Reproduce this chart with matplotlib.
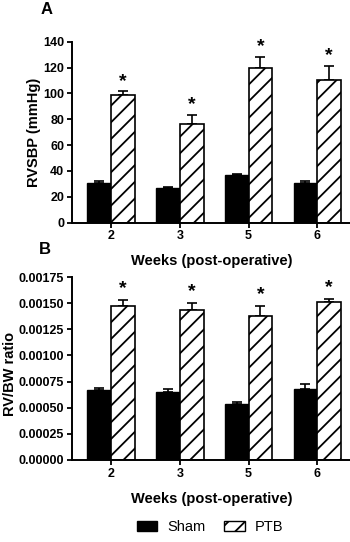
import matplotlib
matplotlib.use("Agg")
import matplotlib.pyplot as plt
import numpy as np
from matplotlib.patches import Patch

plt.rcParams['font.family'] = ['Liberation Sans', 'DejaVu Sans']
plt.rcParams['hatch.linewidth'] = 1.3

weeks = ["2", "3", "5", "6"]
groups = ["Sham", "PTB"]

rvsbp_sham = [31, 26.5, 37, 31]
rvsbp_sham_err = [1, 1, 1, 1]
rvsbp_ptb = [98.5, 76, 119.5, 110]
rvsbp_ptb_err = [3, 7, 8.5, 11]

ratio_sham = [0.000665, 0.000650, 0.000535, 0.000675]
ratio_sham_err = [0.000028, 0.000027, 0.000017, 0.000050]
ratio_ptb = [0.001475, 0.001435, 0.001380, 0.001510]
ratio_ptb_err = [0.000055, 0.000068, 0.000095, 0.000025]

fig = plt.figure(figsize=(3.5, 5.42), dpi=100)
W, H = 350, 542

def make_ax(left_px, top_px, bottom_px, right_px=350):
    return fig.add_axes([left_px / W, 1 - bottom_px / H, (right_px - left_px) / W,
                         (bottom_px - top_px) / H])

axA = make_ax(72, 41.7, 222.7, 351)
axB = make_ax(72, 277, 460, 351)

bw = 0.345
x = np.arange(len(weeks))

def draw(ax, sham, sham_err, ptb, ptb_err, ymax, yticks, fmt, star_off):
    ax.bar(x - bw / 2, sham, bw, color='black', edgecolor='black', linewidth=1.0, zorder=2)
    ax.bar(x + bw / 2, ptb, bw, color='white', edgecolor='black', hatch='//', linewidth=1.2, zorder=2)
    ax.errorbar(x - bw / 2, sham, yerr=[np.zeros(4), sham_err], fmt='none', ecolor='black',
                elinewidth=1.2, capsize=3.5, capthick=1.2, zorder=1)
    ax.errorbar(x + bw / 2, ptb, yerr=[np.zeros(4), ptb_err], fmt='none', ecolor='black',
                elinewidth=1.2, capsize=3.5, capthick=1.2, zorder=1)
    for xi, v, e in zip(x, ptb, ptb_err):
        ax.text(xi + bw / 2, v + e + star_off, '*', ha='center', va='center',
                fontsize=14, fontweight='bold')
    ax.set_ylim(0, ymax)
    ax.set_xlim(-0.57, 3.49)
    ax.set_yticks(yticks)
    ax.set_yticklabels([fmt.format(t) for t in yticks], fontweight='bold', fontsize=9)
    ax.set_xticks(x)
    ax.set_xticklabels(weeks, fontweight='bold', fontsize=9)
    for s in ['top', 'right']:
        ax.spines[s].set_visible(False)
    for s in ['left', 'bottom']:
        ax.spines[s].set_linewidth(1.4)
    ax.tick_params(width=1.3, length=3.5, pad=2)
    ax.set_xlabel("Weeks (post-operative)", fontweight='bold', fontsize=10.5)
    ax.xaxis.set_label_coords(0.50, -0.175)

draw(axA, rvsbp_sham, rvsbp_sham_err, rvsbp_ptb, rvsbp_ptb_err, 140,
     [0, 20, 40, 60, 80, 100, 120, 140], "{:.0f}", 8)
axA.set_ylabel("RVSBP (mmHg)", fontweight='bold', fontsize=10.5)
axA.yaxis.set_label_coords(-0.112, 0.5)

draw(axB, ratio_sham, ratio_sham_err, ratio_ptb, ratio_ptb_err, 0.00175,
     [0, 0.00025, 0.0005, 0.00075, 0.001, 0.00125, 0.0015, 0.00175], "{:.5f}", 0.00011)
axB.set_ylabel("RV/BW ratio", fontweight='bold', fontsize=10.5)
axB.yaxis.set_label_coords(-0.198, 0.47)

fig.text(47 / W, 1 - 10 / H, "A", fontsize=12, fontweight='bold', ha='center', va='center')
fig.text(45 / W, 1 - 250 / H, "B", fontsize=12, fontweight='bold', ha='center', va='center')

handles = [Patch(facecolor='black', edgecolor='black', label=groups[0]),
           Patch(facecolor='white', edgecolor='black', hatch='//', label=groups[1])]
fig.legend(handles=handles, loc='center', bbox_to_anchor=(0.6, 1 - 527 / H), ncol=2,
           frameon=False, fontsize=10.5, handlelength=1.4, handleheight=0.7,
           handletextpad=0.7, columnspacing=1.3)

fig.savefig("out.png", dpi=100)
